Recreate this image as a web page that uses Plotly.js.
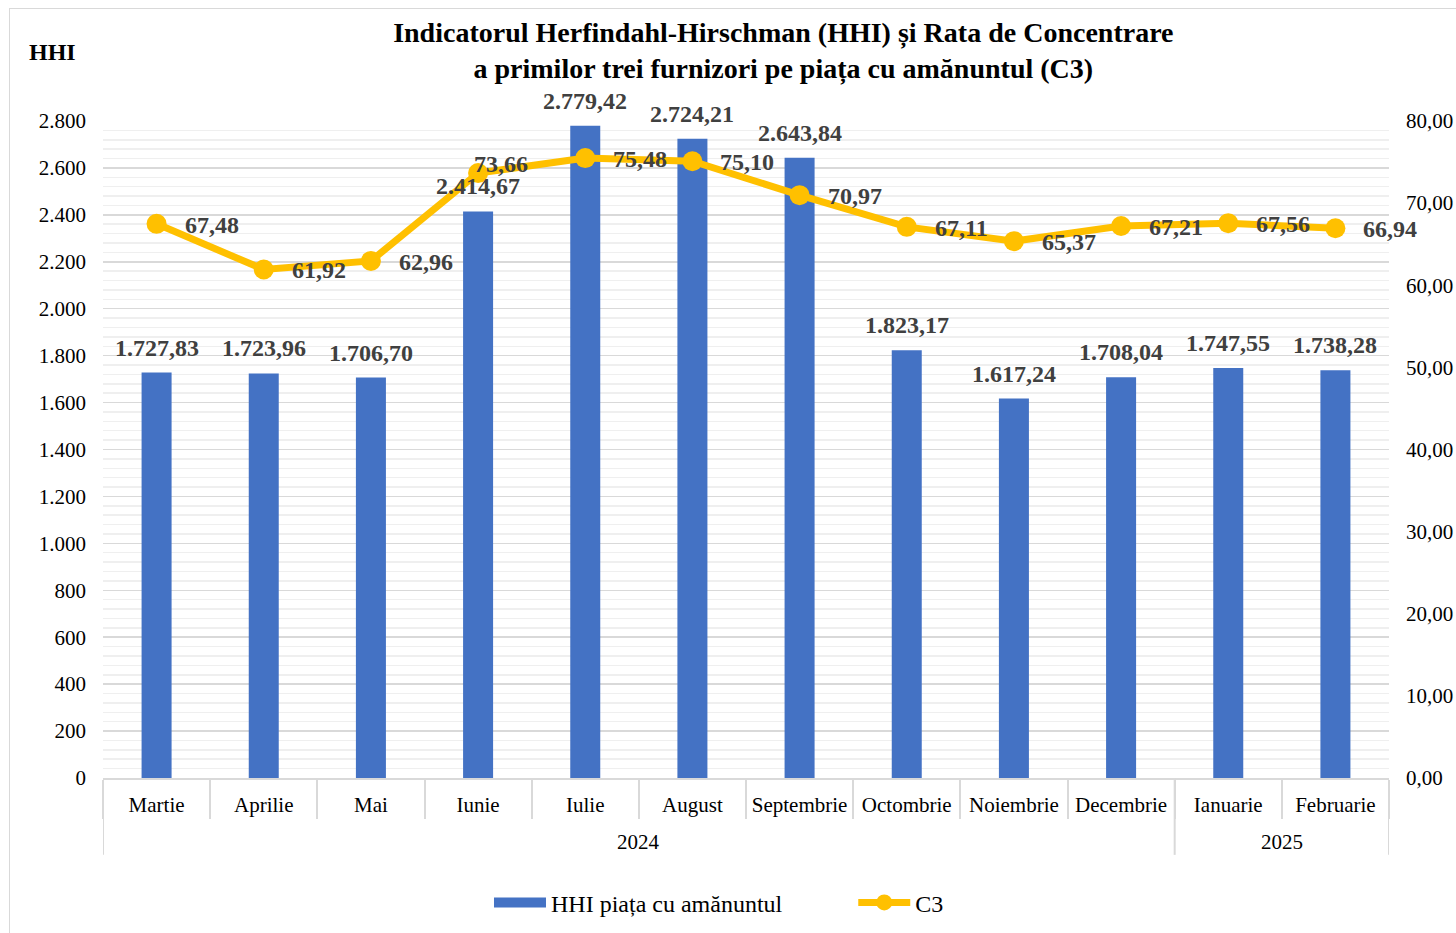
<!DOCTYPE html>
<html>
<head>
<meta charset="utf-8">
<script src="https://cdn.plot.ly/plotly-3.0.1.min.js"></script>
<style>
  body { margin: 0; background: #fff; overflow: hidden; }
  #frame { position: absolute; left: 9px; top: 8px; width: 1500px; height: 1000px; border: 1px solid #d9d9d9; }
  #chart { position: absolute; left: 0; top: 0; width: 1456px; height: 933px; }
</style>
</head>
<body>
<div id="frame"></div>
<div id="chart"></div>
<script>
// luni (axa x) si anii lor
var luni = ["Martie","Aprilie","Mai","Iunie","Iulie","August","Septembrie","Octombrie","Noiembrie","Decembrie","Ianuarie","Februarie"];
var ani = ["2024", "2025"];
var aniCentru = [4.5, 10.5];        // mijlocul grupului de luni pentru fiecare an
var aniLimite = [-0.5, 9.5, 11.5];   // separatoare intre ani

// HHI piata cu amanuntul
var hhi = [1727.83, 1723.96, 1706.70, 2414.67, 2779.42, 2724.21, 2643.84, 1823.17, 1617.24, 1708.04, 1747.55, 1738.28];

// C3 - rata de concentrare
var c3 = [67.48, 61.92, 62.96, 73.66, 75.48, 75.10, 70.97, 67.11, 65.37, 67.21, 67.56, 66.94];

var serif = "Liberation Serif, Times New Roman, serif";
var albastru = '#4472C4';
var galben = '#FFC000';
var gri = '#404040';
var nbsp = '\u00a0';

function fmt(v) {
  return v.toLocaleString('ro-RO', { minimumFractionDigits: 2, maximumFractionDigits: 2 });
}

var bare = {
  x: luni,
  y: hhi,
  type: 'bar',
  name: 'HHI piața cu amănuntul',
  showlegend: false,
  marker: { color: albastru }
};

// doar pentru legenda (dreptunghi lat ca in original)
var legendaBare = {
  x: [null],
  y: [null],
  type: 'scatter',
  mode: 'lines',
  name: 'HHI piața cu amănuntul' + nbsp.repeat(11),
  line: { color: albastru, width: 13 }
};

var linie = {
  x: luni,
  y: c3,
  yaxis: 'y2',
  type: 'scatter',
  mode: 'lines+markers',
  name: 'C3',
  line: { color: galben, width: 7 },
  marker: { color: galben, size: 20 },
  cliponaxis: false
};

var shapes = aniLimite.map(function (v) {
  return {
    type: 'line', xref: 'x', yref: 'paper',
    x0: v, x1: v, y0: 0, y1: -0.117,
    line: { color: '#d9d9d9', width: 2 }
  };
});

// etichetele barelor
var annotations = luni.map(function (l, i) {
  return {
    text: '<b>' + fmt(hhi[i]) + '</b>',
    xref: 'x', yref: 'y',
    x: l, y: hhi[i],
    xanchor: 'center', yanchor: 'middle',
    yshift: 25,
    showarrow: false,
    font: { family: serif, size: 24, color: gri }
  };
});

// etichetele liniei C3 (in dreapta punctului; Iunie putin mai sus)
luni.forEach(function (l, i) {
  var iunie = (l === 'Iunie');
  annotations.push({
    text: '<b>' + fmt(c3[i]) + '</b>',
    xref: 'x', yref: 'y2',
    x: l, y: c3[i],
    xanchor: 'left', yanchor: 'middle',
    xshift: iunie ? -6 : 26,
    yshift: iunie ? 9 : -1,
    showarrow: false,
    font: { family: serif, size: 24, color: gri }
  });
});

ani.forEach(function (an, i) {
  annotations.push({
    text: an, xref: 'x', yref: 'paper',
    x: aniCentru[i], y: -0.097,
    xanchor: 'center', yanchor: 'middle',
    showarrow: false,
    font: { family: serif, size: 21, color: '#000' }
  });
});

annotations.push({
  text: '<b>HHI</b>',
  xref: 'paper', yref: 'paper',
  x: -0.039, y: 1.105,
  xanchor: 'center', yanchor: 'middle',
  showarrow: false,
  font: { family: serif, size: 24, color: '#000' }
});

var layout = {
  width: 1456,
  height: 933,
  margin: { l: 103, r: 67, t: 121, b: 155, autoexpand: false },
  paper_bgcolor: 'rgba(0,0,0,0)',
  plot_bgcolor: 'rgba(0,0,0,0)',
  separators: ',.',
  font: { family: serif, size: 21, color: '#000' },
  title: {
    text: '<b>Indicatorul Herfindahl-Hirschman (HHI) și Rata de Concentrare<br>a primilor trei furnizori pe piața cu amănuntul (C3)</b>',
    x: 0.538, xanchor: 'center',
    yref: 'container',
    y: 0.955, yanchor: 'middle',
    font: { family: serif, size: 28, color: '#000' }
  },
  bargap: 0.72,
  showlegend: true,
  legend: {
    orientation: 'h',
    x: 0.479, xanchor: 'center',
    y: -0.19, yanchor: 'middle',
    font: { family: serif, size: 24, color: '#000' },
    itemwidth: 52,
    traceorder: 'normal'
  },
  xaxis: {
    type: 'category',
    range: [-0.5, 11.5],
    showline: true,
    linecolor: '#d9d9d9',
    linewidth: 2,
    ticks: 'outside',
    tickson: 'boundaries',
    ticklen: 39,
    tickcolor: '#d9d9d9',
    tickwidth: 2,
    ticklabelstandoff: 7,
    tickfont: { family: serif, size: 21, color: '#000' },
    showgrid: false,
    automargin: false
  },
  yaxis: {
    range: [0, 2800],
    dtick: 200,
    tickformat: ',.0f',
    gridcolor: '#d9d9d9',
    gridwidth: 1.5,
    zeroline: false,
    ticklabelstandoff: 16,
    tickfont: { family: serif, size: 21, color: '#000' },
    minor: { dtick: 40, showgrid: true, gridcolor: '#efefef', gridwidth: 1.5 },
    automargin: false
  },
  yaxis2: {
    overlaying: 'y',
    side: 'right',
    range: [0, 80],
    dtick: 10,
    tickformat: '.2f',
    showgrid: false,
    zeroline: false,
    ticklabelstandoff: 16,
    tickfont: { family: serif, size: 21, color: '#000' },
    automargin: false
  },
  shapes: shapes,
  annotations: annotations
};

Plotly.newPlot('chart', [bare, legendaBare, linie], layout, { displayModeBar: false, staticPlot: true });
</script>
</body>
</html>
